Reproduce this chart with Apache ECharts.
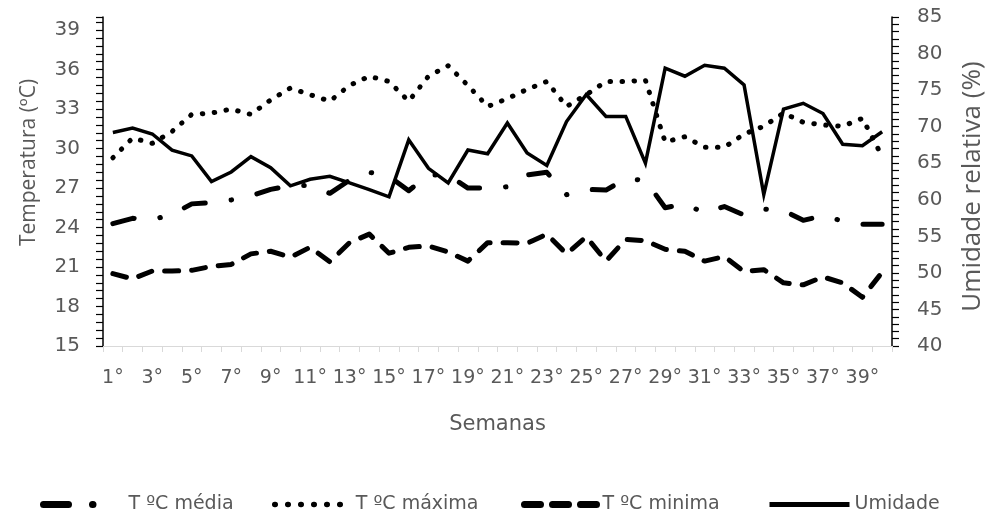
<!DOCTYPE html>
<html>
<head>
<meta charset="utf-8">
<script src="https://cdn.jsdelivr.net/npm/echarts@6/dist/echarts.min.js"></script>
<style>
  html, body { margin: 0; padding: 0; background: #fff; }
  #chart { width: 994px; height: 512px; }
</style>
</head>
<body>
<div id="chart"></div>
<script>
// Weekly labels (1st to 40th week)
const weeks = ['1°','2°','3°','4°','5°','6°','7°','8°','9°','10°',
  '11°','12°','13°','14°','15°','16°','17°','18°','19°','20°',
  '21°','22°','23°','24°','25°','26°','27°','28°','29°','30°',
  '31°','32°','33°','34°','35°','36°','37°','38°','39°','40°'];

// Mean temperature (ºC)
const tMedia = [24.3, 24.7, 24.6, 25.0, 25.8, 25.9, 26.1, 26.4, 26.9, 27.2,
  27.2, 26.6, 27.6, 28.2, 27.9, 26.8, 28.0, 28.0, 27.0, 27.0,
  27.1, 28.0, 28.2, 26.5, 26.9, 26.85, 27.7, 27.6, 25.5, 25.8,
  25.1, 25.6, 24.95, 25.4, 25.3, 24.55, 24.9, 24.5, 24.25, 24.25];

// Maximum temperature (ºC)
const tMaxima = [29.3, 30.8, 30.4, 31.3, 32.6, 32.7, 33.0, 32.6, 33.7, 34.6,
  34.1, 33.6, 34.8, 35.5, 35.1, 33.6, 35.5, 36.3, 34.8, 33.2,
  33.8, 34.5, 35.1, 33.2, 34.1, 35.1, 35.1, 35.2, 30.5, 30.9,
  30.1, 30.1, 31.1, 31.7, 32.7, 32.0, 31.8, 31.7, 32.3, 29.4];

// Minimum temperature (ºC)
const tMinima = [20.5, 20.1, 20.7, 20.7, 20.75, 21.05, 21.2, 22.0, 22.2, 21.75,
  22.5, 21.4, 22.85, 23.5, 22.05, 22.5, 22.6, 22.15, 21.45, 22.85,
  22.85, 22.8, 23.5, 22.0, 23.3, 21.45, 23.1, 23.0, 22.35, 22.2,
  21.45, 21.8, 20.65, 20.8, 19.8, 19.65, 20.25, 19.8, 18.7, 20.6];

// Relative humidity (%)
const umidade = [69.2, 69.8, 69.0, 66.8, 66.0, 62.5, 63.8, 65.9, 64.4, 61.9,
  62.8, 63.2, 62.3, 61.4, 60.4, 68.2, 64.3, 62.3, 66.8, 66.3,
  70.5, 66.4, 64.7, 70.7, 74.4, 71.4, 71.4, 65.0, 78.0, 76.9,
  78.4, 78.0, 75.7, 60.7, 72.4, 73.2, 71.8, 67.6, 67.4, 69.3];

// Labelled ticks on each value axis
const tempTicks = [15, 18, 21, 24, 27, 30, 33, 36, 39];
const humTicks = [40, 45, 50, 55, 60, 65, 70, 75, 80, 85];

const FONT = '"DejaVu Sans", "Open Sans", sans-serif';
const TITLE_FONT = '"Open Sans", "Noto Sans", sans-serif';
const GREY = '#595959';

const chart = echarts.init(document.getElementById('chart'), null, { renderer: 'canvas' });

function tickFormatter(list) {
  return function (v) {
    const r = Math.round(v * 100) / 100;
    return list.indexOf(r) >= 0 ? String(r) : '';
  };
}

// One legend block per series so each entry sits at its own x position
function legendEntry(name, left, iconWidth, lineStyle) {
  return {
    left: left,
    top: 495,
    padding: 0,
    itemWidth: iconWidth,
    itemHeight: 14,
    itemStyle: { color: 'rgba(0,0,0,0)', borderColor: 'rgba(0,0,0,0)', borderWidth: 0, opacity: 0 },
    textStyle: { fontFamily: FONT, fontSize: 19, color: GREY },
    selectedMode: false,
    data: [{ name: name, lineStyle: lineStyle }]
  };
}

chart.setOption({
  animation: false,
  backgroundColor: '#ffffff',
  textStyle: { fontFamily: FONT, color: GREY },
  grid: { left: 103, right: 99, top: 17, bottom: 166, containLabel: false },
  legend: [
    legendEntry('T ºC média', 40, 80, { type: [25, 24, 0.5, 40], width: 7, cap: 'round' }),
    legendEntry('T ºC máxima', 272, 76, { type: [0.5, 12.5], width: 5.5, cap: 'round' }),
    legendEntry('T ºC minima', 521, 73, { type: [16, 12], width: 7, cap: 'round' }),
    legendEntry('Umidade', 767, 80, { type: 'solid', width: 5 })
  ],
  xAxis: {
    type: 'category',
    data: weeks,
    boundaryGap: true,
    name: 'Semanas',
    nameLocation: 'middle',
    nameGap: 68,
    nameTextStyle: { fontFamily: FONT, fontSize: 21, color: GREY },
    axisLine: { show: true, lineStyle: { color: '#d9d9d9', width: 1 } },
    axisTick: { show: true, interval: 0, length: 6, lineStyle: { color: '#d9d9d9' } },
    axisLabel: { interval: 1, margin: 23, fontFamily: FONT, fontSize: 19, color: GREY },
    splitLine: { show: false }
  },
  yAxis: [
    {
      type: 'value',
      min: 15,
      max: 40,
      interval: 0.6,
      position: 'left',
      name: 'Temperatura (ºC)',
      nameLocation: 'middle',
      nameRotate: 90,
      nameGap: 63,
      nameTextStyle: { fontFamily: TITLE_FONT, fontSize: 21, color: GREY, padding: [0, 0, 0, 38] },
      axisLine: { show: true, lineStyle: { color: '#000', width: 1.5 } },
      axisTick: { show: true, inside: false, length: 7, lineStyle: { color: '#000', width: 1.2 } },
      axisLabel: { margin: 23, fontFamily: FONT, fontSize: 20, color: GREY, formatter: tickFormatter(tempTicks) },
      splitLine: { show: false }
    },
    {
      type: 'value',
      min: 40,
      max: 85,
      interval: 1,
      position: 'right',
      name: 'Umidade relativa (%)',
      nameLocation: 'middle',
      nameRotate: 90,
      nameGap: 68,
      nameTextStyle: { fontFamily: TITLE_FONT, fontSize: 26, color: GREY, padding: [0, 10, 0, 0] },
      axisLine: { show: true, lineStyle: { color: '#000', width: 1.5 } },
      axisTick: { show: true, inside: false, length: 7, lineStyle: { color: '#000', width: 1.2 } },
      axisLabel: { margin: 25, fontFamily: FONT, fontSize: 20, color: GREY, formatter: tickFormatter(humTicks) },
      splitLine: { show: false }
    }
  ],
  series: [
    {
      name: 'T ºC média', type: 'line', yAxisIndex: 0, data: tMedia,
      symbol: 'none', smooth: false,
      lineStyle: { color: '#000', width: 5, type: [22, 26, 0.5, 26], cap: 'round', join: 'round' }
    },
    {
      name: 'T ºC máxima', type: 'line', yAxisIndex: 0, data: tMaxima,
      symbol: 'none', smooth: false,
      lineStyle: { color: '#000', width: 5, type: [0.5, 11.5], cap: 'round', join: 'round' }
    },
    {
      name: 'T ºC minima', type: 'line', yAxisIndex: 0, data: tMinima,
      symbol: 'none', smooth: false,
      lineStyle: { color: '#000', width: 5, type: [14, 13], cap: 'round', join: 'round' }
    },
    {
      name: 'Umidade', type: 'line', yAxisIndex: 1, data: umidade,
      symbol: 'none', smooth: false,
      lineStyle: { color: '#000', width: 3.5, type: 'solid', join: 'miter' }
    }
  ]
});
</script>
</body>
</html>
